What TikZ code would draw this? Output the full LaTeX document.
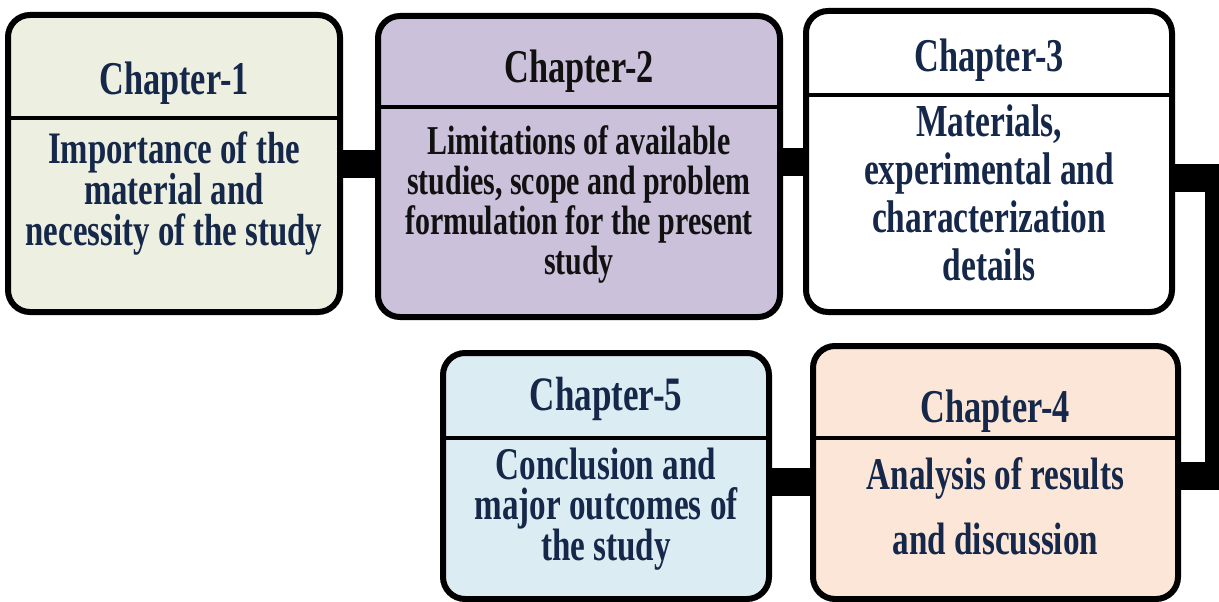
\documentclass[tikz,border=0pt]{standalone}
\usepackage{fontspec}
\setmainfont{Liberation Serif}[FakeStretch=0.73]
\usepackage{tikz}
\usepackage{xcolor}

\definecolor{navy}{HTML}{16284A}
\definecolor{ink}{HTML}{111111}
\definecolor{sage}{HTML}{EDEFE1}
\definecolor{lavender}{HTML}{CBC1DB}
\definecolor{peach}{HTML}{FCE6D8}
\definecolor{icyblue}{HTML}{DCECF3}

\newcommand\chapfont[2]{\bfseries\fontsize{#1}{#2}\selectfont\lineskiplimit=-100pt}

\begin{document}
\begin{tikzpicture}[x=1pt,y=-1pt,
  chapbox/.style={draw=black, line width=6pt, rounded corners=22pt, inner sep=0pt},
  divider/.style={line width=4pt},
  link/.style={line width=28pt},
  headtext/.style={anchor=base, text=navy, font=\chapfont{47}{47}},
  bodytext/.style={anchor=base, align=center, text=navy}]
  \useasboundingbox (0,0) rectangle (1219,602);
  \clip (0,0) rectangle (1219,602);

  % chapter boxes
  \node[chapbox, fill=sage, minimum width=332pt, minimum height=297pt] (ch1) at (174,163.5) {};
  \node[chapbox, fill=lavender, minimum width=402pt, minimum height=301pt] (ch2) at (579,166.5) {};
  \node[chapbox, fill=white, minimum width=366pt, minimum height=301pt] (ch3) at (989,161.5) {};
  \node[chapbox, fill=peach, minimum width=365pt, minimum height=253pt] (ch4) at (995.5,472.5) {};
  \node[chapbox, fill=icyblue, minimum width=326pt, minimum height=246pt] (ch5) at (606,476) {};

  % dividers
  \draw[divider] (ch1.west |- 0,118) -- (ch1.east |- 0,118);
  \draw[divider] (ch2.west |- 0,107) -- (ch2.east |- 0,107);
  \draw[divider] (ch3.west |- 0,95) -- (ch3.east |- 0,95);
  \draw[divider] (ch4.west |- 0,438) -- (ch4.east |- 0,438);
  \draw[divider] (ch5.west |- 0,438) -- (ch5.east |- 0,438);

  % titles and texts (text nodes sit on their last baseline)
  \node[headtext] (ch1title) at (174,95) {Chapter-1};
  \node[bodytext, font=\chapfont{45}{41}] (ch1text) at (174,245)
    {Importance of the\\material and\\necessity of the study};

  \node[headtext, text=ink] (ch2title) at (579,83) {Chapter-2};
  \node[bodytext, text=ink, font=\chapfont{41}{40}] (ch2text) at (579,274)
    {Limitations of available\\studies, scope and problem\\formulation for the present\\study};

  \node[headtext] (ch3title) at (989,72) {Chapter-3};
  \node[bodytext, font=\chapfont{45.8}{47.7}] (ch3text) at (989,280)
    {Materials,\\experimental and\\characterization\\details};

  \node[headtext] (ch4title) at (995.5,422) {Chapter-4};
  \node[bodytext, font=\chapfont{45.4}{65}] (ch4text) at (995.5,554)
    {Analysis of results\\and discussion};

  \node[headtext, font=\chapfont{48}{48}] (ch5title) at (606,410) {Chapter-5};
  \node[bodytext, font=\chapfont{45.4}{40.5}] (ch5text) at (606,560)
    {Conclusion and\\major outcomes of\\the study};

  % links
  \coordinate (bendtop) at (1219,177.5);
  \coordinate (bendbot) at (1219,476);
  \draw[link] (ch1.east) -- (ch1.east -| ch2.west);
  \draw[link] (ch3.west -| ch2.east) -- (ch3.west);
  \draw[link] (ch3.east |- bendtop) -- (bendtop) -- (bendbot) -- (ch4.east |- bendbot);
  \draw[link] (ch5.east |- 0,482) -- (ch4.west |- 0,482);
\end{tikzpicture}
\end{document}
